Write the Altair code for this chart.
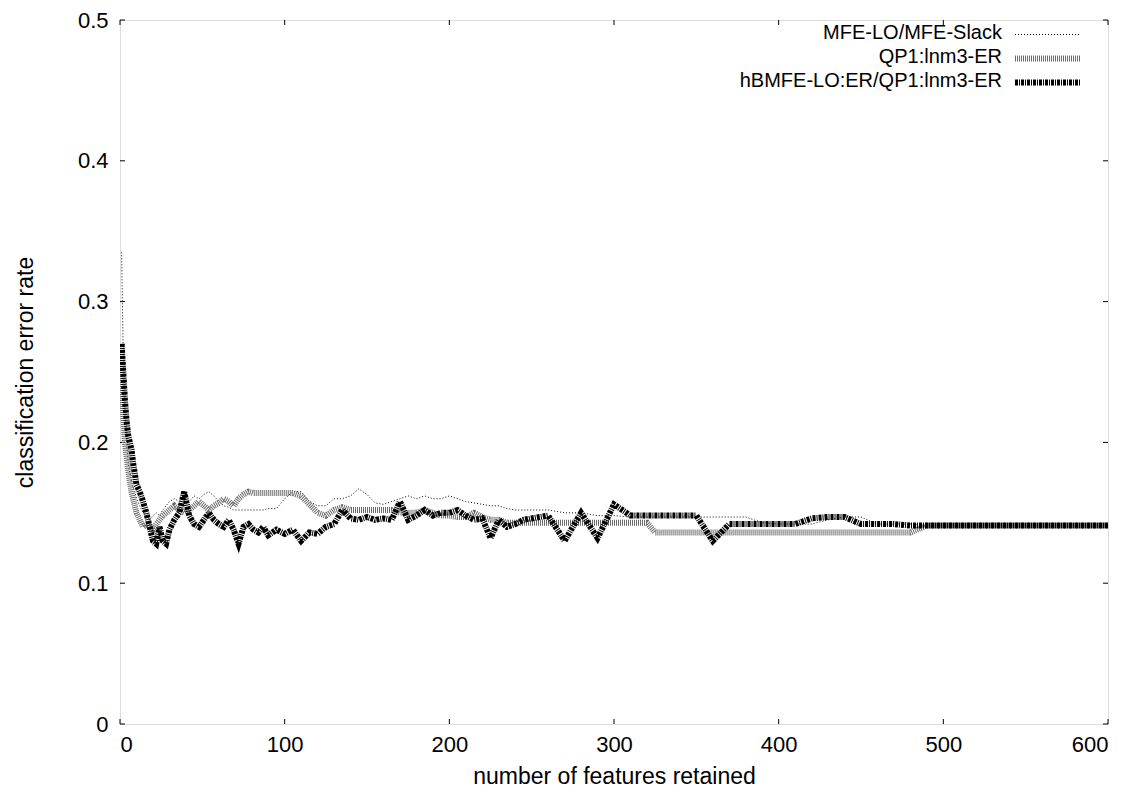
import altair as alt
import pandas as pd

features = [1, 2, 3, 4, 5, 6, 7, 8, 9, 10,
            12, 14, 16, 18, 20, 22, 24, 26, 28, 30,
            33, 36, 39, 42, 45, 48, 51, 54, 57, 60, 63, 66, 69, 72, 75, 78, 81, 84, 87, 90,
            95, 100, 105, 110, 115, 120, 125, 130, 135, 140, 145, 150, 155, 160, 165, 170,
            175, 180, 185, 190, 195, 200, 205, 210, 215, 220, 225, 230, 235, 240, 245, 250,
            260, 270, 280, 290, 300, 310, 320, 325,
            330, 340, 350, 360, 370, 380, 390, 400, 410, 420, 430, 440, 450, 460, 470, 480,
            490, 500, 550, 600]

mfe_lo = [0.335, 0.26, 0.22, 0.2, 0.185, 0.178, 0.172, 0.168, 0.165, 0.16,
          0.155, 0.15, 0.148, 0.145, 0.148, 0.15, 0.148, 0.152, 0.155, 0.158,
          0.16, 0.158, 0.155, 0.158, 0.162, 0.16, 0.163, 0.165, 0.162, 0.158, 0.155, 0.154, 0.152, 0.152,
          0.152, 0.152, 0.152, 0.152, 0.152, 0.153,
          0.153, 0.16, 0.165, 0.165, 0.158, 0.155, 0.155, 0.16, 0.16, 0.162, 0.167, 0.163, 0.157, 0.156,
          0.158, 0.16, 0.162, 0.16, 0.162, 0.16, 0.16, 0.162, 0.16, 0.158, 0.157, 0.156, 0.155, 0.155,
          0.153, 0.152, 0.152, 0.152,
          0.152, 0.15, 0.15, 0.148, 0.148, 0.147, 0.147, 0.147,
          0.147, 0.147, 0.147, 0.147, 0.147, 0.147, 0.143, 0.142, 0.142, 0.142, 0.145, 0.147, 0.147,
          0.142, 0.142, 0.142,
          0.141, 0.141, 0.141, 0.141]

qp1 = [0.27, 0.22, 0.2, 0.19, 0.18, 0.172, 0.165, 0.16, 0.155, 0.15,
       0.145, 0.14, 0.142, 0.14, 0.138, 0.142, 0.145, 0.148, 0.15, 0.152,
       0.155, 0.152, 0.15, 0.152, 0.155, 0.158, 0.155, 0.152, 0.155, 0.157, 0.16, 0.158, 0.155, 0.16,
       0.163, 0.165, 0.164, 0.164, 0.164, 0.164,
       0.164, 0.164, 0.164, 0.162, 0.156, 0.15, 0.148, 0.152, 0.154, 0.152, 0.152, 0.152, 0.152, 0.152,
       0.152, 0.15, 0.15, 0.15, 0.152, 0.15, 0.148, 0.148, 0.147, 0.147, 0.15, 0.147, 0.145, 0.145,
       0.143, 0.143, 0.143, 0.143,
       0.143, 0.143, 0.143, 0.143, 0.143, 0.143, 0.143, 0.136,
       0.136, 0.136, 0.136, 0.136, 0.136, 0.136, 0.136, 0.136, 0.136, 0.136, 0.136, 0.136, 0.136,
       0.136, 0.136, 0.136,
       0.141, 0.141, 0.141, 0.141]

hbmfe = [0.27, 0.25, 0.23, 0.215, 0.205, 0.2, 0.195, 0.185, 0.178, 0.17,
         0.165, 0.158, 0.15, 0.14, 0.13, 0.128, 0.14, 0.13, 0.128, 0.138,
         0.145, 0.15, 0.165, 0.148, 0.142, 0.14, 0.145, 0.15, 0.145, 0.142, 0.14, 0.145, 0.138, 0.128,
         0.14, 0.142, 0.138, 0.136, 0.14, 0.134,
         0.138, 0.135, 0.138, 0.13, 0.136, 0.135, 0.14, 0.142, 0.152, 0.146, 0.145, 0.147, 0.145, 0.146,
         0.145, 0.158, 0.145, 0.148, 0.152, 0.148, 0.15, 0.15, 0.152, 0.148, 0.145, 0.146, 0.132, 0.145,
         0.14, 0.142, 0.145, 0.146,
         0.148, 0.13, 0.15, 0.132, 0.156, 0.148, 0.148, 0.148,
         0.148, 0.148, 0.148, 0.13, 0.142, 0.142, 0.142, 0.142, 0.142, 0.146, 0.147, 0.147, 0.142,
         0.142, 0.142, 0.141,
         0.141, 0.141, 0.141, 0.141]

series_names = ["MFE-LO/MFE-Slack", "QP1:lnm3-ER", "hBMFE-LO:ER/QP1:lnm3-ER"]
x_ticks = [0, 100, 200, 300, 400, 500, 600]
y_ticks = [0, 0.1, 0.2, 0.3, 0.4, 0.5]

W, H = 988, 704
FONT = "Liberation Sans"
FS = 22

xs = alt.Scale(domain=[0, 600], nice=False, zero=False)
ys = alt.Scale(domain=[0, 0.5], nice=False)

styles = [
    dict(color="black", strokeWidth=1, strokeDash=[1, 2]),
    dict(color="#6a6a6a", strokeWidth=6, strokeDash=[1, 1]),
    dict(color="black", strokeWidth=6, strokeDash=[3, 1, 1, 1]),
]

layers = []

axis_df = pd.DataFrame({"features": [0], "rate": [0]})
base_axes = alt.Chart(axis_df).mark_point(opacity=0).encode(
    x=alt.X("features:Q", scale=xs,
            axis=alt.Axis(values=x_ticks, title="number of features retained", grid=False,
                          domain=False, tickSize=0, labelPadding=10, labelFontSize=FS,
                          labelFont=FONT, labelColor="black", titleFont=FONT, titleFontSize=23,
                          titleFontWeight="normal", titleColor="black", titlePadding=10)),
    y=alt.Y("rate:Q", scale=ys,
            axis=alt.Axis(values=y_ticks, format=".1~f", title="classification error rate",
                          grid=False, domain=False, tickSize=0, labelPadding=12, labelFontSize=FS,
                          labelFont=FONT, labelColor="black", titleFont=FONT, titleFontSize=23,
                          titleFontWeight="normal", titleColor="black", titlePadding=40)),
)
layers.append(base_axes)

# inward ticks on all four sides
xt = pd.DataFrame({"t": x_ticks})
yt = pd.DataFrame({"t": y_ticks})
tick_len = 5
layers.append(alt.Chart(xt).mark_rule(color="black", strokeWidth=1).encode(
    x=alt.X("t:Q", scale=xs), y=alt.value(H), y2=alt.value(H - tick_len)))
layers.append(alt.Chart(xt).mark_rule(color="black", strokeWidth=1).encode(
    x=alt.X("t:Q", scale=xs), y=alt.value(0), y2=alt.value(tick_len)))
layers.append(alt.Chart(yt).mark_rule(color="black", strokeWidth=1).encode(
    y=alt.Y("t:Q", scale=ys), x=alt.value(0), x2=alt.value(tick_len)))
layers.append(alt.Chart(yt).mark_rule(color="black", strokeWidth=1).encode(
    y=alt.Y("t:Q", scale=ys), x=alt.value(W), x2=alt.value(W - tick_len)))

for name, vals, st in zip(series_names, [mfe_lo, qp1, hbmfe], styles):
    df = pd.DataFrame({"features": features, "rate": vals, "series": name})
    layers.append(alt.Chart(df).mark_line(clip=True, **st).encode(
        x=alt.X("features:Q", scale=xs), y=alt.Y("rate:Q", scale=ys), order="features:Q"))

# gnuplot-style key: labels on the left, line samples on the right
text_y = [13, 37, 61]
line_y = [14.5, 38.5, 62.5]
for name, ty, ly, st in zip(series_names, text_y, line_y, styles):
    ldf = pd.DataFrame({"label": [name]})
    layers.append(alt.Chart(ldf).mark_text(align="right", baseline="middle", fontSize=20,
                                           font=FONT, color="black").encode(
        text="label:N", x=alt.value(882), y=alt.value(ty)))
    layers.append(alt.Chart(ldf).mark_rule(**st).encode(
        x=alt.value(895), x2=alt.value(960), y=alt.value(ly)))

chart = alt.layer(*layers).properties(
    width=W, height=H,
    autosize=alt.AutoSizeParams(type="none"),
    padding={"left": 112, "top": 12, "right": 24, "bottom": 67},
).configure_view(stroke="black", strokeWidth=1).configure(background="white")

chart.save("out.html", embed_options={"renderer": "svg", "actions": False})
